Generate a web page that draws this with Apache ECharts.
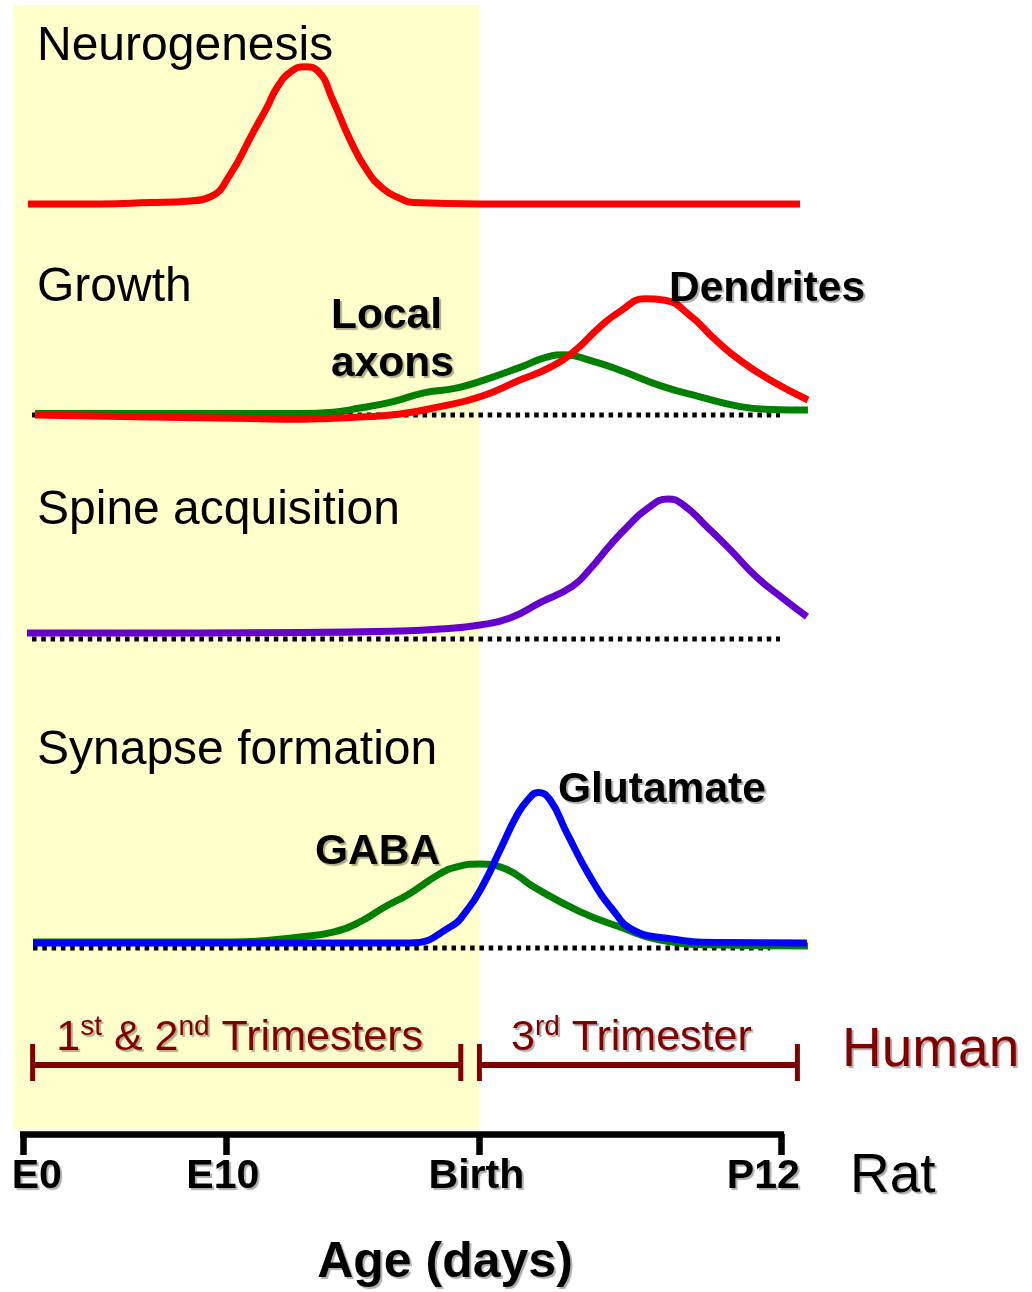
<!DOCTYPE html>
<html><head><meta charset="utf-8">
<script src="https://cdn.jsdelivr.net/npm/echarts@6/dist/echarts.min.js"></script>
<style>html,body{margin:0;padding:0;background:#fff}#chart{width:1032px;height:1292px}</style>
</head><body><div id="chart"></div>
<script>
// ---- Rat age axis (position units along the timeline) ----
const tickValues = [0, 10, 22.52, 37.4];
const tickLabels = ['E0', 'E10', 'Birth', 'P12'];
const prenatalSpan = [-0.46, 22.52];

// ---- Human periods ----
const humanPeriods = [[0.46, 21.6], [22.52, 38.22]];
const humanPeriodLabels = ['1st & 2nd Trimesters', '3rd Trimester'];

// ---- Panel titles ----
const panelTitles = ['Neurogenesis', 'Growth', 'Spine acquisition', 'Synapse formation'];

// ---- Curves: [position, relative level] ----
const neurogenesis = [[0.23,0],[3.79,0],[6.26,0.01],[8.08,0.02],[9.22,0.05],[10.21,0.21],[11.34,0.51],[12.03,0.69],[12.52,0.83],[13.17,0.94],[13.91,0.98],[14.55,0.95],[15.29,0.74],[16.13,0.46],[16.97,0.24],[17.76,0.11],[18.60,0.04],[19.24,0.01],[22.55,0],[38.35,0]];
const localAxons = [[0.58,0.01],[6.26,0.01],[11.19,0.01],[13.66,0.01],[15.29,0.02],[16.62,0.05],[18.10,0.09],[19.83,0.16],[21.31,0.19],[22.55,0.24],[24.52,0.34],[25.76,0.41],[26.74,0.43],[27.98,0.39],[29.46,0.32],[31.44,0.21],[33.41,0.13],[35.39,0.06],[36.87,0.04],[38.74,0.036]];
const dendrites = [[0.58,0],[6.26,-0.014],[11.19,-0.025],[13.66,-0.03],[16.62,-0.014],[18.60,0.007],[20.57,0.06],[22.55,0.13],[24.52,0.25],[26.00,0.34],[27.24,0.46],[28.47,0.63],[29.46,0.74],[30.69,0.83],[31.68,0.82],[32.92,0.71],[34.15,0.54],[35.39,0.39],[36.87,0.25],[38.74,0.107]];
const spines = [[0.18,0.043],[3.79,0.043],[13.66,0.046],[18.60,0.057],[20.57,0.071],[22.55,0.10],[24.03,0.15],[25.51,0.26],[27.14,0.38],[27.98,0.50],[28.97,0.67],[29.81,0.80],[30.79,0.93],[31.83,1.0],[32.57,0.96],[33.76,0.80],[34.89,0.64],[36.22,0.44],[37.51,0.29],[38.69,0.16]];
const gaba = [[0.48,0.043],[10.35,0.043],[13.66,0.079],[15.29,0.114],[16.62,0.186],[17.76,0.286],[19.09,0.39],[20.57,0.53],[21.41,0.58],[22.55,0.60],[23.54,0.58],[24.38,0.52],[25.16,0.44],[27.48,0.26],[29.46,0.15],[31.44,0.057],[34.40,0.021],[38.74,0.014]];
const glutamate = [[0.48,0.036],[19.09,0.036],[21.07,0.15],[21.91,0.27],[22.70,0.45],[23.54,0.70],[24.38,0.95],[24.92,1.06],[25.41,1.11],[26.00,1.06],[26.84,0.82],[27.98,0.51],[29.12,0.27],[30.10,0.13],[31.78,0.07],[34.25,0.04],[38.69,0.036]];

// ---- Dotted zero baselines [start, end] ----
const growthBaseline = [0.43, 37.36];
const spineBaseline = [0.43, 37.36];
const synapseBaseline = [0.48, 36.87];

// ================== chart ==================
const FONT = "'Liberation Sans', Arial, Helvetica, sans-serif";
const SHADOW = { textShadowColor: 'rgba(0,0,0,0.32)', textShadowOffsetX: 2, textShadowOffsetY: 2, textShadowBlur: 1 };
const DARKRED = '#800000';

const chart = echarts.init(document.getElementById('chart'), null, { renderer: 'canvas' });

// shared horizontal mapping for content grids
const X_LEFT = 3.046, X_WIDTH = 951.94, X_MIN = -1, X_MAX = 46;
const panelBaselines = [204, 415, 639, 948];   // panel zero-level rows
const PANEL_H = 182, PANEL_ABOVE = 168;

const grids = [], xAxes = [], yAxes = [];
function addGrid(g, xa, ya) {
  grids.push(Object.assign({ outerBoundsMode: 'none', containLabel: false }, g));
  const i = grids.length - 1;
  xAxes.push(Object.assign({ gridIndex: i, type: 'value', show: false, min: X_MIN, max: X_MAX }, xa || {}));
  yAxes.push(Object.assign({ gridIndex: i, type: 'value', show: false, min: 0, max: 1 }, ya || {}));
  return i;
}
// 0: background (prenatal shading)
const gBg = addGrid({ left: X_LEFT, width: X_WIDTH, top: 5, height: 1124 });
// 1-4: panels
const gPanels = panelBaselines.map(b => addGrid({ left: X_LEFT, width: X_WIDTH, top: b - PANEL_ABOVE, height: PANEL_H }, null, { min: -0.1, max: 1.2 }));
// 5: human timeline
const gHuman = addGrid({ left: X_LEFT, width: X_WIDTH, top: 1015, height: 100 });
// 6: rat age axis
const gAxis = addGrid({ left: 23.3, width: 757.5, top: 1100, height: 34 }, {
  show: true, min: 0, max: 37.4,
  axisLine: { show: true, lineStyle: { color: '#000', width: 6.6, cap: 'square' } },
  axisTick: { show: true, customValues: tickValues, length: 21, lineStyle: { color: '#000', width: 6.5 } },
  splitLine: { show: false },
  axisLabel: {
    show: true, customValues: tickValues, margin: 22,
    formatter: function (v) {
      let i = tickValues.findIndex(t => Math.abs(t - v) < 1e-6);
      if (i < 0) return '';
      const key = i === 0 ? 'first' : (i === tickValues.length - 1 ? 'last' : 'mid');
      return '{' + key + '|' + tickLabels[i] + '}';
    },
    rich: {
      first: Object.assign({ fontFamily: FONT, fontSize: 41, fontWeight: 'bold', color: '#000', padding: [0, 0, 0, 27] }, SHADOW),
      mid: Object.assign({ fontFamily: FONT, fontSize: 41, fontWeight: 'bold', color: '#000', padding: [0, 6, 0, 0] }, SHADOW),
      last: Object.assign({ fontFamily: FONT, fontSize: 41, fontWeight: 'bold', color: '#000', padding: [0, 35, 0, 0] }, SHADOW)
    }
  }
});

function curve(data, gi, color, z) {
  return { type: 'line', xAxisIndex: gi, yAxisIndex: gi, data: data, smooth: 0.5, symbol: 'none', showSymbol: false,
    clip: false, z: z || 3, lineStyle: { color: color, width: 7, cap: 'butt', join: 'round' }, silent: true };
}
function dotted(span, gi) {
  return { type: 'line', xAxisIndex: gi, yAxisIndex: gi, data: [[span[0], 0], [span[1], 0]], symbol: 'none', clip: false, z: 2,
    lineStyle: { color: '#000', width: 5, type: [4.5, 4.8] }, silent: true };
}
function toRich(s) {
  return '{n|' + s.replace(/(\d)(st|nd|rd|th)\b/g, '$1}{s|$2}{n|') + '}';
}

const series = [
  { type: 'custom', xAxisIndex: gBg, yAxisIndex: gBg, z: 0, silent: true, data: [prenatalSpan],
    renderItem: function (params, api) {
      const p0 = api.coord([api.value(0), 1]);
      const p1 = api.coord([api.value(1), 0]);
      return { type: 'rect', shape: { x: p0[0], y: p0[1], width: p1[0] - p0[0], height: p1[1] - p0[1] }, style: { fill: '#FFFFCC' } };
    } },
  curve(neurogenesis, gPanels[0], '#FF0000'),
  dotted(growthBaseline, gPanels[1]),
  curve(localAxons, gPanels[1], '#008000', 3),
  curve(dendrites, gPanels[1], '#FF0000', 4),
  dotted(spineBaseline, gPanels[2]),
  curve(spines, gPanels[2], '#6600CC'),
  dotted(synapseBaseline, gPanels[3]),
  curve(gaba, gPanels[3], '#008000', 3),
  curve(glutamate, gPanels[3], '#0000FF', 4),
  { type: 'custom', xAxisIndex: gHuman, yAxisIndex: gHuman, z: 3, silent: true,
    data: humanPeriods.map((p, i) => [p[0], p[1], i]),
    renderItem: function (params, api) {
      const a = api.coord([api.value(0), 0.5]);
      const b = api.coord([api.value(1), 0.5]);
      const y = a[1];
      const label = humanPeriodLabels[api.value(2)];
      const tok = Object.assign({ fill: DARKRED, fontFamily: FONT }, SHADOW);
      return { type: 'group', children: [
        { type: 'line', shape: { x1: a[0], y1: y, x2: b[0], y2: y }, style: { stroke: DARKRED, lineWidth: 6 } },
        { type: 'line', shape: { x1: a[0], y1: y - 21, x2: a[0], y2: y + 16 }, style: { stroke: DARKRED, lineWidth: 5 } },
        { type: 'line', shape: { x1: b[0], y1: y - 21, x2: b[0], y2: y + 16 }, style: { stroke: DARKRED, lineWidth: 5 } },
        { type: 'text', x: (a[0] + b[0]) / 2 - 7, y: y - 27, style: {
            text: toRich(label), align: 'center', verticalAlign: 'middle',
            rich: {
              n: Object.assign({ fontSize: 43, lineHeight: 50 }, tok),
              s: Object.assign({ fontSize: 28, lineHeight: 38, verticalAlign: 'top' }, tok)
            } } }
      ] };
    } }
];

function txt(text, x, y, font, fill, opts) {
  return { type: 'text', z: 10, silent: true, style: Object.assign({ text: text, x: x, y: y, font: font, fill: fill,
    align: 'left', verticalAlign: 'middle', textAlign: 'left', textVerticalAlign: 'middle' }, opts || {}) };
}
const TITLE_FONT = 'normal 48px ' + FONT;
const BOLD = 'bold 42.5px ' + FONT;
const titleY = [46.5, 287.5, 510.5, 750.5];
const graphics = panelTitles.map((t, i) => txt(t, 37, titleY[i], TITLE_FONT, '#000'));
graphics.push(txt('Local\naxons', 331, 340, BOLD, '#000', Object.assign({ lineHeight: 48 }, SHADOW)));
graphics.push(txt('Dendrites', 669, 289.5, BOLD, '#000', SHADOW));
graphics.push(txt('Glutamate', 558, 790.5, BOLD, '#000', SHADOW));
graphics.push(txt('GABA', 315, 852.5, BOLD, '#000', SHADOW));
graphics.push(txt('Human', 842, 1051, 'normal 55px ' + FONT, DARKRED, SHADOW));
graphics.push(txt('Rat', 850, 1177, 'normal 55px ' + FONT, '#000', SHADOW));
graphics.push(txt('Age (days)', 445, 1263.5, 'bold 50px ' + FONT, '#000', Object.assign({ align: 'center', textAlign: 'center' }, SHADOW)));

chart.setOption({
  animation: false,
  backgroundColor: '#ffffff',
  grid: grids,
  xAxis: xAxes,
  yAxis: yAxes,
  series: series,
  graphic: { elements: graphics }
});
</script></body></html>
